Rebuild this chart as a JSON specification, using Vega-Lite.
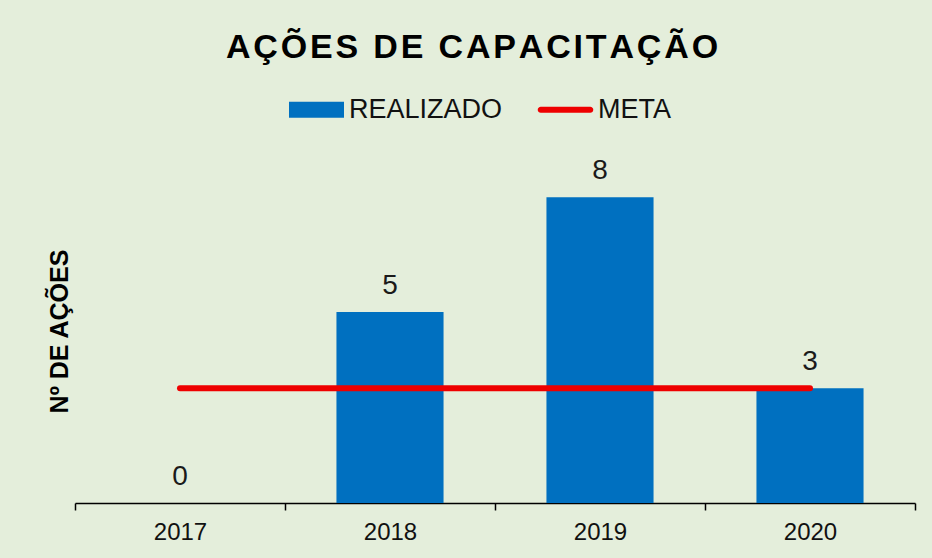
{
  "$schema": "https://vega.github.io/schema/vega-lite/v6.json",
  "width": 840,
  "height": 344,
  "autosize": {"type": "none"},
  "padding": {"left": 75, "top": 159, "right": 17, "bottom": 55},
  "background": "#e4eedb",
  "title": {
    "text": "A\u200aÇ\u200aÕ\u200aE\u200aS\u200a \u200aD\u200aE\u200a \u200aC\u200aA\u200aP\u200aA\u200aC\u200aI\u200aT\u200aA\u200aÇ\u200aÃ\u200aO",
    "font": "Liberation Sans",
    "fontSize": 34,
    "fontWeight": "bold",
    "color": "#000000",
    "anchor": "middle",
    "dx": -23,
    "offset": 17
  },
  "data": {
    "values": [
      {"ano": "2017", "realizado": 0, "meta": 3},
      {"ano": "2018", "realizado": 5, "meta": 3},
      {"ano": "2019", "realizado": 8, "meta": 3},
      {"ano": "2020", "realizado": 3, "meta": 3}
    ]
  },
  "encoding": {
    "x": {
      "field": "ano",
      "type": "ordinal",
      "scale": {"paddingInner": 0, "paddingOuter": 0},
      "axis": {
        "title": null,
        "domainColor": "#000000",
        "domainWidth": 1.5,
        "tickColor": "#000000",
        "tickSize": 7,
        "tickWidth": 1.5,
        "tickBand": "extent",
        "labelFontSize": 24,
        "labelFont": "Liberation Sans",
        "labelColor": "#111111",
        "labelPadding": 10,
        "labelAngle": 0,
        "grid": false
      }
    }
  },
  "layer": [
    {
      "mark": {"type": "bar", "width": {"band": 0.51}},
      "encoding": {
        "y": {
          "field": "realizado",
          "type": "quantitative",
          "scale": {"domain": [0, 9], "nice": false},
          "axis": {
            "title": "Nº DE AÇÕES",
            "titleFontSize": 25,
            "titleFont": "Liberation Sans",
            "titleFontWeight": "bold",
            "titleColor": "#000000",
            "labels": false,
            "ticks": false,
            "domain": false,
            "grid": false,
            "titlePadding": 3
          }
        },
        "color": {
          "datum": "REALIZADO",
          "scale": {"domain": ["REALIZADO", "META"], "range": ["#0070c0", "#ee0000"]},
          "legend": {
            "title": null,
            "orient": "none",
            "direction": "horizontal",
            "legendX": 214,
            "legendY": -77,
            "padding": 0,
            "symbolSize": 3025,
            "labelFontSize": 27,
            "labelFont": "Liberation Sans",
            "labelColor": "#111111",
            "labelLimit": 0,
            "labelOffset": 5,
            "columnPadding": 34,
            "encode": {
              "symbols": {
                "update": {
                  "shape": {"signal": "datum.value === 'META' ? 'M-0.9,-0.11L0.9,-0.11A0.11,0.11 0 0 1 0.9,0.11L-0.9,0.11A0.11,0.11 0 0 1 -0.9,-0.11Z' : 'M-1,-0.29L1,-0.29L1,0.29L-1,0.29Z'"},
                  "fill": {"signal": "datum.value === 'META' ? '#ee0000' : '#0070c0'"},
                  "stroke": {"value": "transparent"},
                  "strokeWidth": {"value": 0},
                  "opacity": {"value": 1}
                }
              }
            }
          }
        }
      }
    },
    {
      "mark": {"type": "line", "strokeWidth": 6, "strokeCap": "round"},
      "encoding": {
        "y": {"field": "meta", "type": "quantitative"},
        "color": {"datum": "META"}
      }
    },
    {
      "mark": {"type": "text", "baseline": "alphabetic", "dy": -18, "fontSize": 28, "font": "Liberation Sans", "color": "#1a1a1a"},
      "encoding": {
        "y": {"field": "realizado", "type": "quantitative"},
        "text": {"field": "realizado", "type": "quantitative"}
      }
    }
  ],
  "config": {"view": {"stroke": null}}
}
